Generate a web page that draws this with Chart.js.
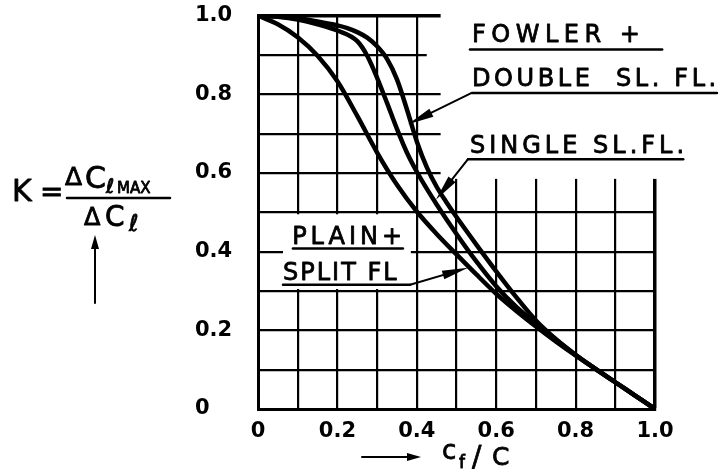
<!DOCTYPE html>
<html><head><meta charset="utf-8">
<script src="https://cdn.jsdelivr.net/npm/chart.js@4.4.1/dist/chart.umd.min.js"></script>
<style>html,body{margin:0;padding:0;background:#fff;}#wrap{width:722px;height:471px;}</style>
</head><body><div id="wrap"><canvas id="c" width="722" height="471"></canvas></div>
<script>
// ---- data ----
const plainX  = [0, 0.05, 0.1, 0.15, 0.2, 0.25, 0.3, 0.35, 0.4, 0.45, 0.5, 0.55, 0.6, 0.65, 0.7, 0.75, 0.8, 0.85, 0.9, 0.95, 1.0];
const plainK  = [1.0, 0.978, 0.945, 0.898, 0.833, 0.745, 0.652, 0.570, 0.502, 0.445, 0.393, 0.342, 0.293, 0.250, 0.210, 0.172, 0.136, 0.102, 0.068, 0.034, 0];
const singleX = [0, 0.05, 0.1, 0.15, 0.2, 0.25, 0.275, 0.3, 0.325, 0.35, 0.375, 0.4, 0.425, 0.45, 0.5, 0.55, 0.6, 0.65, 0.7, 0.75, 0.8, 0.85, 0.9, 0.95, 1.0];
const singleK = [1.0, 0.997, 0.99, 0.978, 0.962, 0.935, 0.898, 0.842, 0.778, 0.712, 0.652, 0.603, 0.560, 0.520, 0.445, 0.375, 0.312, 0.260, 0.217, 0.176, 0.137, 0.102, 0.068, 0.034, 0];
const fowlerX = [0, 0.05, 0.1, 0.15, 0.2, 0.225, 0.25, 0.275, 0.3, 0.325, 0.35, 0.375, 0.4, 0.425, 0.45, 0.475, 0.5, 0.55, 0.6, 0.65, 0.7, 0.75, 0.8, 0.85, 0.9, 0.95, 1.0];
const fowlerK = [1.0, 0.998, 0.993, 0.985, 0.975, 0.968, 0.958, 0.944, 0.922, 0.89, 0.838, 0.762, 0.68, 0.615, 0.565, 0.525, 0.488, 0.418, 0.35, 0.285, 0.225, 0.178, 0.138, 0.102, 0.068, 0.034, 0];
const xTickLabels = ['0', '0.2', '0.4', '0.6', '0.8', '1.0'];
const yTickLabels = ['0', '0.2', '0.4', '0.6', '0.8', '1.0'];
const seriesNames = ['PLAIN + SPLIT FL', 'SINGLE SL. FL.', 'FOWLER + DOUBLE SL. FL.'];

// ---- annotation layout (data units) ----
const masks = [
  {x0: 0.46, x1: 1.3, y0: 0.585, y1: 1.3},
  {x0: 0.425, x1: 0.47, y0: 0.88, y1: 0.92},
  {x0: 0.063, x1: 0.385, y0: 0.305, y1: 0.495}
];
const notes = [
  {text: 'FOWLER +',        x: 0.539, y: 0.934, sp: 5.5, ul: [0.534, 1.018, 0.914]},
  {text: 'DOUBLE  SL. FL.', x: 0.539, y: 0.820, sp: 3.6, ul: [0.539, 1.156, 0.803]},
  {text: 'SINGLE SL.FL.',   x: 0.534, y: 0.651, sp: 4,   ul: [0.529, 1.071, 0.635]},
  {text: 'PLAIN+',          x: 0.086, y: 0.420, sp: 4,   ul: [0.088, 0.365, 0.408]},
  {text: 'SPLIT FL',        x: 0.063, y: 0.327, sp: 2,   ul: [0.063, 0.383, 0.316]}
];
const pointers = [
  {from: [0.537, 0.803], to: [0.378, 0.724]},
  {from: [0.529, 0.635], to: [0.448, 0.532]},
  {from: [0.383, 0.316], to: [0.529, 0.359]}
];

const FONT = '"DejaVu Sans", sans-serif';

function arrow(ctx, x1, y1, x2, y2, len, half) {
  const a = Math.atan2(y2 - y1, x2 - x1);
  ctx.beginPath(); ctx.moveTo(x1, y1); ctx.lineTo(x2 - Math.cos(a) * len * 0.5, y2 - Math.sin(a) * len * 0.5); ctx.stroke();
  ctx.beginPath();
  ctx.moveTo(x2, y2);
  ctx.lineTo(x2 - Math.cos(a) * len - Math.sin(a) * half, y2 - Math.sin(a) * len + Math.cos(a) * half);
  ctx.lineTo(x2 - Math.cos(a) * len + Math.sin(a) * half, y2 - Math.sin(a) * len - Math.cos(a) * half);
  ctx.closePath(); ctx.fill();
}
function txt(ctx, s, x, y, font, sp) {
  ctx.font = font;
  ctx.letterSpacing = (sp || 0) + 'px';
  ctx.lineWidth = 0.8;
  ctx.fillText(s, x, y);
  ctx.strokeText(s, x, y);
  ctx.letterSpacing = '0px';
}

const paper = {
  id: 'paper',
  beforeDatasetsDraw(chart) {
    const {ctx, scales: {x, y}} = chart;
    ctx.save(); ctx.fillStyle = '#fff';
    masks.forEach(m => {
      const l = x.getPixelForValue(m.x0), r = x.getPixelForValue(m.x1);
      const t = y.getPixelForValue(m.y1), b = y.getPixelForValue(m.y0);
      ctx.fillRect(l, t, r - l, b - t);
    });
    ctx.restore();
  },
  afterDraw(chart) {
    const {ctx, scales: {x, y}} = chart;
    ctx.save();
    ctx.fillStyle = '#000'; ctx.strokeStyle = '#000'; ctx.lineCap = 'round'; ctx.lineJoin = 'round';
    ctx.textBaseline = 'alphabetic'; ctx.textAlign = 'left';
    // curve labels
    notes.forEach(n => {
      txt(ctx, n.text, x.getPixelForValue(n.x), y.getPixelForValue(n.y), '24px ' + FONT, n.sp);
      ctx.lineWidth = 2.5;
      ctx.beginPath();
      ctx.moveTo(x.getPixelForValue(n.ul[0]), y.getPixelForValue(n.ul[2]));
      ctx.lineTo(x.getPixelForValue(n.ul[1]), y.getPixelForValue(n.ul[2]));
      ctx.stroke();
    });
    pointers.forEach(p => {
      ctx.lineWidth = 2;
      arrow(ctx, x.getPixelForValue(p.from[0]), y.getPixelForValue(p.from[1]),
                 x.getPixelForValue(p.to[0]), y.getPixelForValue(p.to[1]), 26, 4.5);
    });
    // y axis title: K = dCl_max / dCl
    txt(ctx, 'K', 12, 201, '30px ' + FONT);
    txt(ctx, '=', 40, 201, '28px ' + FONT);
    txt(ctx, '\u0394', 65, 185, '25px ' + FONT);
    txt(ctx, 'C', 85, 188, '30px ' + FONT);
    txt(ctx, '\u2113', 106, 193, 'italic 20px ' + FONT);
    txt(ctx, 'MAX', 117, 193, '15px ' + FONT);
    ctx.lineWidth = 2.5;
    ctx.beginPath(); ctx.moveTo(67, 198); ctx.lineTo(170, 198); ctx.stroke();
    txt(ctx, '\u0394', 84, 225, '24px ' + FONT);
    txt(ctx, 'C', 105, 226, '28px ' + FONT);
    txt(ctx, '\u2113', 129, 231, 'italic 23px ' + FONT);
    ctx.lineWidth = 2;
    arrow(ctx, 95, 303, 95, 235, 14, 4);
    // x axis title: -> cf/c
    ctx.lineWidth = 2;
    arrow(ctx, 362, 457, 421, 457, 14, 4);
    txt(ctx, 'c', 442, 459, '26px ' + FONT);
    txt(ctx, 'f', 459, 468, '17px ' + FONT);
    txt(ctx, '/', 472, 466, '28px ' + FONT);
    txt(ctx, 'C', 492, 465, '25px ' + FONT);
    ctx.restore();
  }
};

const mk = (xs, ks, name) => ({
  label: name,
  data: xs.map((v, i) => ({x: v, y: ks[i]})),
  showLine: true, borderColor: '#000', backgroundColor: '#000', borderWidth: 4.5,
  pointRadius: 0, fill: false, cubicInterpolationMode: 'monotone',
  borderCapStyle: 'round', borderJoinStyle: 'round'
});

const gridW = (c) => (c.tick && Math.abs(c.tick.value - 1) < 1e-6) ? 3.5 : 2.2;

new Chart(document.getElementById('c'), {
  type: 'scatter',
  data: { datasets: [
    mk(plainX, plainK, seriesNames[0]),
    mk(singleX, singleK, seriesNames[1]),
    mk(fowlerX, fowlerK, seriesNames[2])
  ]},
  options: {
    responsive: false, animation: false, devicePixelRatio: 1,
    layout: { padding: { left: 195, top: 14, right: 67, bottom: 0 } },
    plugins: { legend: { display: false }, tooltip: { enabled: false } },
    scales: {
      x: {
        type: 'linear', min: 0, max: 1,
        afterFit: s => { s.height = 62; },
        grid: { color: '#000', lineWidth: gridW, drawTicks: false },
        border: { color: '#000', width: 3 },
        ticks: { stepSize: 0.1, autoSkip: false, maxRotation: 0, padding: 10, color: '#000',
                 font: { family: FONT, size: 21, weight: 'bold' },
                 callback: (v, i) => i % 2 === 0 ? xTickLabels[i / 2] : '' }
      },
      y: {
        type: 'linear', min: 0, max: 1,
        afterFit: s => { s.width = 63; },
        grid: { color: '#000', lineWidth: gridW, drawTicks: false },
        border: { color: '#000', width: 3 },
        ticks: { stepSize: 0.1, autoSkip: false, crossAlign: 'far', color: '#000',
                 font: { family: FONT, size: 21, weight: 'bold' },
                 callback: (v, i) => i % 2 === 0 ? yTickLabels[i / 2] : '' }
      }
    }
  },
  plugins: [paper]
});
</script>
</body></html>
